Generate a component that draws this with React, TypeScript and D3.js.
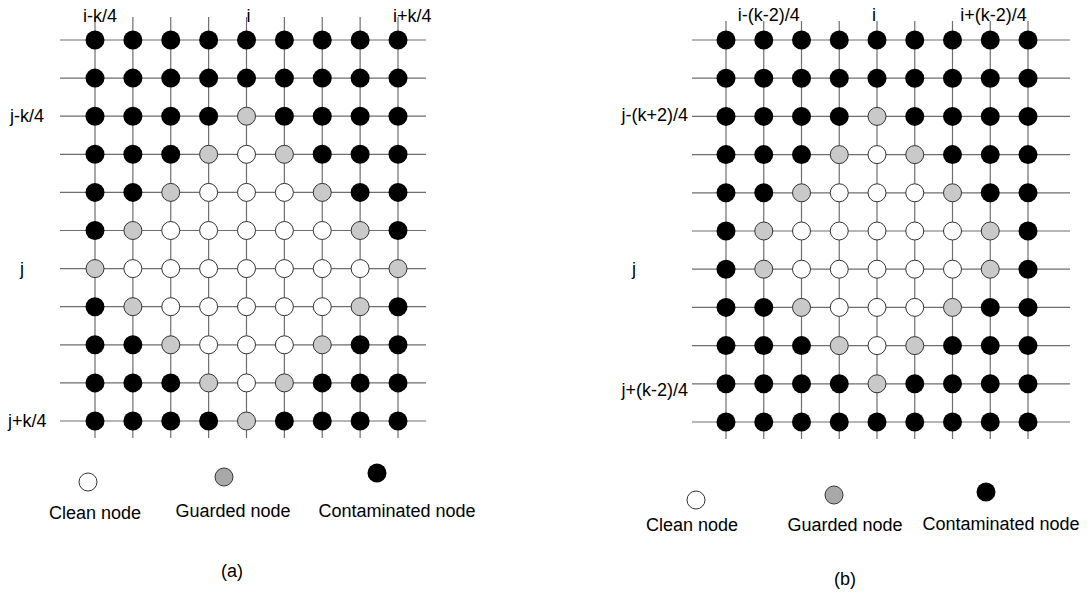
import React from "react";
import * as d3 from "d3";

// Node states: C = contaminated, G = guarded, W = clean
const gridA: string[] = [
  "CCCCCCCCC",
  "CCCCCCCCC",
  "CCCCGCCCC",
  "CCCGWGCCC",
  "CCGWWWGCC",
  "CGWWWWWGC",
  "GWWWWWWWG",
  "CGWWWWWGC",
  "CCGWWWGCC",
  "CCCGWGCCC",
  "CCCCGCCCC",
];
const gridB: string[] = [
  "CCCCCCCCC",
  "CCCCCCCCC",
  "CCCCGCCCC",
  "CCCGWGCCC",
  "CCGWWWGCC",
  "CGWWWWWGC",
  "CGWWWWWGC",
  "CCGWWWGCC",
  "CCCGWGCCC",
  "CCCCGCCCC",
  "CCCCCCCCC",
];
const colLabelsA = ["i-k/4", "i", "i+k/4"];
const colLabelColsA = [0, 4, 8];
const rowLabelsA = ["j-k/4", "j", "j+k/4"];
const rowLabelRowsA = [2, 6, 10];
const colLabelsB = ["i-(k-2)/4", "i", "i+(k-2)/4"];
const colLabelColsB = [1, 4, 7];
const rowLabelsB = ["j-(k+2)/4", "j", "j+(k-2)/4"];
const rowLabelRowsB = [2, 6, 9];
const legendStates = ["W", "G", "C"];
const legendNames = ["Clean node", "Guarded node", "Contaminated node"];

const FONT = "'Liberation Sans', Arial, Helvetica, sans-serif";

const fillOf = (s: string) => (s === "C" ? "#000" : s === "G" ? "#c9c9c9" : "#fff");

type Layout = {
  x0: number; x1: number; y0: number; y1: number;
  hLeft: number; hRight: number; vTop: number; vBottom: number;
  colDx: number[]; colY: number;
  rowX: number[]; rowDy: number[]; rowAnchor: string[];
  legX: number[]; legCy: number[]; legTextX: number[]; legTextY: number[];
  capX: number; capY: number; caption: string;
};

const layoutA: Layout = {
  x0: 95, x1: 398, y0: 40, y1: 421,
  hLeft: 35, hRight: 28, vTop: 17, vBottom: 438,
  colDx: [-12, 0, -5], colY: 22,
  rowX: [10, 20, 8], rowDy: [6, 6, 6], rowAnchor: ["start", "start", "start"],
  legX: [88, 224, 377], legCy: [482, 477, 473],
  legTextX: [95, 233, 397], legTextY: [519, 517, 517],
  capX: 232, capY: 577, caption: "(a)",
};
const layoutB: Layout = {
  x0: 726, x1: 1028, y0: 40, y1: 422,
  hLeft: 34, hRight: 42, vTop: 21, vBottom: 439,
  colDx: [-26, -5, -30], colY: 21,
  rowX: [688, 632, 688], rowDy: [5, 6, 12], rowAnchor: ["end", "start", "end"],
  legX: [696, 834, 986], legCy: [500, 495, 492],
  legTextX: [692, 845, 1001], legTextY: [531, 531, 530],
  capX: 845, capY: 585, caption: "(b)",
};

function Panel({ grid, L, colLabels, colLabelCols, rowLabels, rowLabelRows }: {
  grid: string[]; L: Layout; colLabels: string[]; colLabelCols: number[];
  rowLabels: string[]; rowLabelRows: number[];
}) {
  const nCols = grid[0].length;
  const nRows = grid.length;
  const x = d3.scaleLinear().domain([0, nCols - 1]).range([L.x0, L.x1]);
  const y = d3.scaleLinear().domain([0, nRows - 1]).range([L.y0, L.y1]);
  const cols = d3.range(nCols);
  const rows = d3.range(nRows);
  return (
    <g>
      {rows.map((r) => (
        <line key={"h" + r} x1={x(0) - L.hLeft} x2={x(nCols - 1) + L.hRight} y1={y(r)} y2={y(r)}
          stroke="#6e6e6e" strokeWidth={1.2} />
      ))}
      {cols.map((c) => (
        <line key={"v" + c} x1={x(c)} x2={x(c)} y1={L.vTop} y2={L.vBottom}
          stroke="#6e6e6e" strokeWidth={1.2} />
      ))}
      {rows.map((r) =>
        cols.map((c) => {
          const s = grid[r][c];
          return (
            <circle key={r + "-" + c} cx={x(c)} cy={y(r)} r={s === "C" ? 9.5 : 9}
              fill={fillOf(s)} stroke={s === "C" ? "none" : "#333"} strokeWidth={1} />
          );
        })
      )}
      {colLabels.map((t, i) => (
        <text key={"cl" + i} x={x(colLabelCols[i]) + L.colDx[i]} y={L.colY}
          fontFamily={FONT} fontSize={18} fill="#000">{t}</text>
      ))}
      {rowLabels.map((t, i) => (
        <text key={"rl" + i} x={L.rowX[i]} y={y(rowLabelRows[i]) + L.rowDy[i]}
          textAnchor={L.rowAnchor[i] as any} fontFamily={FONT} fontSize={18} fill="#000">{t}</text>
      ))}
      {legendStates.map((s, i) => (
        <g key={"lg" + i}>
          <circle cx={L.legX[i]} cy={L.legCy[i]} r={s === "C" ? 9.5 : 9}
            fill={s === "G" ? "#a8a8a8" : fillOf(s)} stroke={s === "C" ? "none" : "#333"} strokeWidth={1} />
          <text x={L.legTextX[i]} y={L.legTextY[i]} textAnchor="middle"
            fontFamily={FONT} fontSize={18} fill="#000">{legendNames[i]}</text>
        </g>
      ))}
      <text x={L.capX} y={L.capY} textAnchor="middle" fontFamily={FONT} fontSize={18} fill="#000">{L.caption}</text>
    </g>
  );
}

export default function App() {
  return (
    <div style={{ position: "absolute", left: 0, top: 0 }}>
      <svg width={1091} height={595} style={{ display: "block", background: "#fff" }}>
        <rect width={1091} height={595} fill="#fff" />
        <Panel grid={gridA} L={layoutA} colLabels={colLabelsA} colLabelCols={colLabelColsA}
          rowLabels={rowLabelsA} rowLabelRows={rowLabelRowsA} />
        <Panel grid={gridB} L={layoutB} colLabels={colLabelsB} colLabelCols={colLabelColsB}
          rowLabels={rowLabelsB} rowLabelRows={rowLabelRowsB} />
      </svg>
    </div>
  );
}
